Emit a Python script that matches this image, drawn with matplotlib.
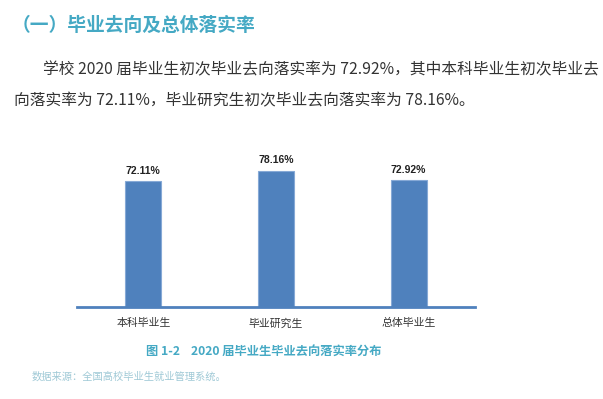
import matplotlib
matplotlib.use("Agg")
import matplotlib.pyplot as plt

plt.rcParams['font.family'] = ['Noto Sans CJK SC', 'DejaVu Sans']

# data
categories = ['本科毕业生', '毕业研究生', '总体毕业生']
rates = [72.11, 78.16, 72.92]
value_labels = ['72.11%', '78.16%', '72.92%']

heading = '（一）毕业去向及总体落实率'
para_line1 = '学校 2020 届毕业生初次毕业去向落实率为 72.92%，其中本科毕业生初次毕业去'
para_line2 = '向落实率为 72.11%，毕业研究生初次毕业去向落实率为 78.16%。'
caption = '图 1-2    2020 届毕业生毕业去向落实率分布'
source = '数据来源：全国高校毕业生就业管理系统。'

W, H = 603, 399
fig = plt.figure(figsize=(W / 100, H / 100), dpi=100)

teal = '#45a9c4'
bar_blue = '#4f81bd'

# chart area
ax = fig.add_axes([77 / W, 92 / H, 398 / W, 157 / H])
x = range(len(categories))
ax.bar(x, rates, width=0.27, color=bar_blue, edgecolor='#86a9d6', linewidth=0.8, zorder=2)
for xi, v, lab in zip(x, rates, value_labels):
    ax.text(xi, v + 3, lab, ha='center', va='bottom', fontsize=7.5, fontweight='bold',
            family=['Liberation Sans', 'DejaVu Sans'], color='#222222')
ax.set_xlim(-0.5, 2.5)
ax.set_ylim(0, 90)
ax.set_xticks(list(x))
ax.set_xticklabels(categories, fontsize=7.8, color='#333333')
ax.tick_params(axis='x', length=0, pad=8)
ax.set_yticks([])
for s in ['top', 'right', 'left']:
    ax.spines[s].set_visible(False)
ax.spines['bottom'].set_color(bar_blue)
ax.spines['bottom'].set_linewidth(2)
ax.patch.set_alpha(0)

# surrounding text
fig.text(12 / W, 1 - 25 / H, heading, fontsize=13.5, fontweight='bold',
         color=teal, va='center', ha='left')
fig.text(43 / W, 1 - 70 / H, para_line1, fontsize=11.3, color='#333333',
         va='center', ha='left')
fig.text(14 / W, 1 - 101 / H, para_line2, fontsize=11.3, color='#333333',
         va='center', ha='left')
fig.text(264 / W, 1 - 351 / H, caption, fontsize=8.8, fontweight='bold',
         color=teal, va='center', ha='center')
fig.text(32 / W, 1 - 377 / H, source, fontsize=7.4, color='#9fc9d6',
         va='center', ha='left')

fig.savefig('out.png', dpi=100)
